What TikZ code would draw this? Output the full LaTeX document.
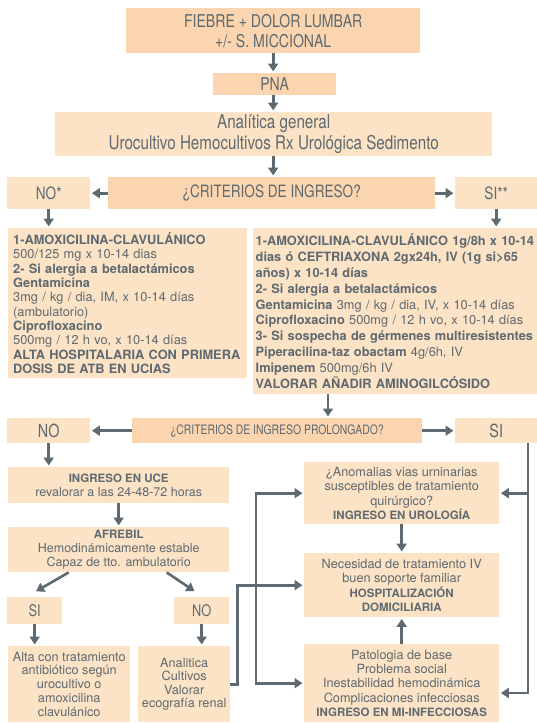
\documentclass[tikz,border=0pt]{standalone}
\usepackage{fontspec}
\setmainfont{TeX Gyre Heros}
\newfontfamily\condfont{TeX Gyre Heros}[FakeStretch=0.8]
\usetikzlibrary{arrows.meta, positioning, calc}

\definecolor{boxdark}{HTML}{FAD5AF}
\definecolor{boxlight}{HTML}{FDE3C6}
\definecolor{inkgray}{HTML}{5E6970}

\newcommand{\lowbold}[1]{{\fontsize{11.5}{14.5}\selectfont\bfseries #1}}

\begin{document}
\begin{tikzpicture}[x=1pt, y=-1pt,
    box/.style={rectangle, fill=boxlight, text=inkgray, inner sep=0pt, anchor=north west, align=center},
    darkbox/.style={box, fill=boxdark},
    head/.style={font=\condfont\fontsize{17.6}{20}\selectfont},
    body/.style={font=\fontsize{12.7}{14.5}\selectfont},
    drugs/.style={box, align=left, font=\fontsize{12.8}{14.3}\selectfont},
    arrow/.style={draw=inkgray, line width=2.6pt, -{Triangle[length=8pt,width=10pt]}, shorten >=1.5pt},
    link/.style={draw=inkgray, line width=2.6pt}
]
\useasboundingbox (0,0) rectangle (537,723);

% top of the chart
\node[darkbox, head, minimum width=294pt, minimum height=45pt] (fiebre) at (126,8) {FIEBRE + DOLOR LUMBAR\\+/- S. MICCIONAL};
\node[darkbox, head, minimum width=123pt, minimum height=22pt] (pna) at (213,73) {PNA};
\node[box, font=\condfont\fontsize{19}{20.7}\selectfont, minimum width=437pt, minimum height=44pt] (analit) at (55,112) {Analítica general\\Urocultivo Hemocultivos Rx Urológica Sedimento};

\node[darkbox, font=\condfont\fontsize{17}{20}\selectfont, minimum width=327pt, minimum height=32pt] (crit) at (108,177) {¿CRITERIOS DE INGRESO?};
\node[box, font=\condfont\fontsize{17}{20}\selectfont, minimum width=83pt, minimum height=32pt] (noA) at (7,177) {NO*};
\node[box, font=\condfont\fontsize{17}{20}\selectfont, minimum width=82pt, minimum height=32pt] (siA) at (455,177) {SI**};

% antibiotic boxes
\node[drugs, minimum width=239pt, minimum height=150pt, text width=229pt] (drugL) at (8,228) {%
\textbf{1-AMOXICILINA-CLAVULÁNICO}\\
500/125 mg x 10-14 dias\\
\textbf{2- Si alergia a betalactámicos}\\
\textbf{Gentamicina}\\
3mg / kg / dia, IM, x 10-14 días\\
(ambulatorio)\\
\textbf{Ciprofloxacino}\\
500mg / 12 h vo, x 10-14 días\\
\textbf{ALTA HOSPITALARIA CON PRIMERA}\\
\textbf{DOSIS DE ATB EN UCIAS}};
\node[drugs, font=\fontsize{12.8}{15.8}\selectfont, minimum width=284pt, minimum height=166pt, text width=279pt] (drugR) at (253,228) {%
\textbf{1-AMOXICILINA-CLAVULÁNICO 1g/8h x 10-14}\\
\textbf{dias ó CEFTRIAXONA 2gx24h, IV (1g si>65}\\
\textbf{años) x 10-14 días}\\
\textbf{2- Si alergia a betalactámicos}\\
\textbf{Gentamicina} 3mg / kg / dia, IV, x 10-14 días\\
\textbf{Ciprofloxacino} 500mg / 12 h vo, x 10-14 días\\
\textbf{3- Si sospecha de gérmenes multiresistentes}\\
\textbf{Piperacilina-taz obactam} 4g/6h, IV\\
\textbf{Imipenem} 500mg/6h IV\\
\textbf{VALORAR AÑADIR AMINOGILCÓSIDO}};

% second question
\node[darkbox, font=\condfont\fontsize{13}{15}\selectfont, minimum width=290pt, minimum height=25pt] (prol) at (132,418) {¿CRITERIOS DE INGRESO PROLONGADO?};
\node[box, font=\condfont\fontsize{18}{20}\selectfont, minimum width=83pt, minimum height=25pt] (noB) at (7,418) {NO};
\node[box, font=\condfont\fontsize{18}{20}\selectfont, minimum width=82pt, minimum height=25pt] (siB) at (455,418) {SI};

% left branch
\node[box, font=\fontsize{12.5}{13.5}\selectfont, minimum width=221pt, minimum height=36pt] (uce) at (8,467) {\lowbold{INGRESO EN UCE}\\revalorar a las 24-48-72 horas};
\node[box, font=\fontsize{12.5}{14}\selectfont, minimum width=221pt, minimum height=45pt] (afrebil) at (8,527) {\lowbold{AFREBIL}\\Hemodinámicamente estable\\Capaz de tto. ambulatorio};
\node[box, font=\condfont\fontsize{16}{18}\selectfont, minimum width=55pt, minimum height=27pt] (siC) at (7,597) {SI};
\node[box, font=\condfont\fontsize{16}{18}\selectfont, minimum width=55pt, minimum height=27pt] (noC) at (174,597) {NO};
\node[box, font=\fontsize{12.7}{13.8}\selectfont, minimum width=122pt, minimum height=76pt] (alta) at (8,646) {Alta con tratamiento\\antibiótico según\\urocultivo o\\amoxicilina\\clavulánico};
\node[box, font=\fontsize{12.7}{13.5}\selectfont, minimum width=92pt, minimum height=76pt] (anal2) at (138,646) {Analitica\\Cultivos\\Valorar\\ecografía renal};

% right branch
\node[box, body, minimum width=195pt, minimum height=62pt] (urol) at (304,462) {¿Anomalias vias urninarias\\susceptibles de tratamiento\\quirúrgico?\\\lowbold{INGRESO EN UROLOGÍA}};
\node[box, body, minimum width=195pt, minimum height=64pt] (hosp) at (304,553) {Necesidad de tratamiento IV\\buen soporte familiar\\\lowbold{HOSPITALIZACIÓN}\\\lowbold{DOMICILIARIA}};
\node[box, font=\fontsize{12.7}{14.3}\selectfont, minimum width=195pt, minimum height=78pt] (mi) at (304,644) {Patologia de base\\Problema social\\Inestabilidad hemodinámica\\Complicaciones infecciosas\\\lowbold{INGRESO EN MI-INFECCIOSAS}};

% connectors
\draw[arrow] (fiebre.south) -- (fiebre.south |- pna.north);
\draw[arrow] (fiebre.south |- pna.south) -- (fiebre.south |- analit.north);
\draw[arrow] (fiebre.south |- analit.south) -- (fiebre.south |- crit.north);
\draw[arrow] (crit.west) -- (noA.east);
\draw[arrow] (crit.east) -- (siA.west);
\draw[arrow] (noA.south) -- (noA.south |- drugL.north);
\draw[arrow] (siA.south) -- (siA.south |- drugR.north);
\draw[arrow] (drugR.south -| 328,0) -- (prol.north -| 328,0);
\draw[arrow] (prol.west) -- (noB.east);
\draw[arrow] (prol.east) -- (siB.west);
\draw[arrow] (noB.south) -- (noB.south |- uce.north);
\draw[arrow] (uce.south) -- (afrebil.north);
\draw[arrow] ($(afrebil.south)+(-50,0)$) -- ($(siC.north)+(0,-5)$);
\draw[arrow] ($(afrebil.south)+(48,0)$) -- ($(noC.north)+(-6,-5)$);
\draw[arrow] (siC.south) -- (siC.south |- alta.north);
\draw[arrow] (noC.south) -- (noC.south |- anal2.north);

\draw[arrow] (urol.south) -- (hosp.north);
\draw[arrow] (mi.north) -- (hosp.south);

\coordinate (sie) at (528,693);
\draw[arrow] (siB.south -| sie) -- (sie) -- (mi.east |- sie);
\draw[arrow] (sie |- urol.east) -- (urol.east);

\coordinate (brk) at (256,585);
\draw[arrow] (brk) |- (urol.west);
\draw[arrow] (brk) |- (mi.west);
\draw[arrow] (anal2.east) -- ++(7,0) |- (hosp.west);
\end{tikzpicture}
\end{document}
